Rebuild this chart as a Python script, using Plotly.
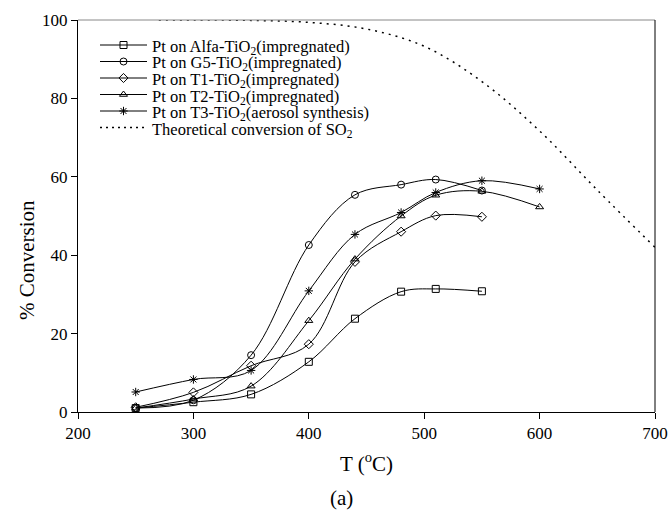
import plotly.graph_objects as go

# ---- data ----
T_imp = [250, 300, 350, 400, 440, 480, 510, 550]
alfa = [1.0, 2.5, 4.5, 12.8, 23.8, 30.7, 31.4, 30.8]
g5 = [1.0, 3.0, 14.5, 42.6, 55.4, 58.0, 59.3, 56.5]
t1 = [1.2, 5.0, 11.8, 17.3, 38.3, 46.0, 50.1, 49.8]

T_ext = [250, 300, 350, 400, 440, 480, 510, 550, 600]
t2 = [1.0, 3.3, 6.6, 23.3, 39.0, 50.0, 55.3, 56.3, 52.3]
t3 = [5.1, 8.3, 10.6, 30.9, 45.3, 50.9, 56.0, 59.0, 56.9]

T_theo = [270, 300, 350, 400, 450, 500, 550, 600, 650, 700]
theo = [100, 100, 99.9, 99.4, 97.7, 93.3, 84.3, 71.7, 56.6, 42.0]

names = [
    "Pt on Alfa-TiO<sub>2</sub>(impregnated)",
    "Pt on G5-TiO<sub>2</sub>(impregnated)",
    "Pt on T1-TiO<sub>2</sub>(impregnated)",
    "Pt on T2-TiO<sub>2</sub>(impregnated)",
    "Pt on T3-TiO<sub>2</sub>(aerosol synthesis)",
    "Theoretical conversion of SO<sub>2</sub>",
]
symbols = ["square-open", "circle-open", "diamond-open", "triangle-up-open", "asterisk-open"]

FONT = "Liberation Serif, Times New Roman, serif"

# layout geometry (pixels)
W, H = 670, 513
L, R, TOP, B = 78, 15, 20, 101
PW, PH = W - L - R, H - TOP - B


def px(xp):
    return (xp - L) / PW


def py(yp):
    return (H - B - yp) / PH


fig = go.Figure()
series = [(T_imp, alfa), (T_imp, g5), (T_imp, t1), (T_ext, t2), (T_ext, t3)]
for (x, y), nm, sym in zip(series, names, symbols):
    fig.add_trace(go.Scatter(
        x=x, y=y, name=nm, mode="lines+markers",
        line=dict(color="black", width=1, shape="spline", smoothing=1),
        marker=dict(symbol=sym, size=7, color="black",
                    line=dict(color="black", width=1)),
        showlegend=False,
    ))

fig.add_trace(go.Scatter(
    x=T_theo, y=theo, name=names[5], mode="lines",
    line=dict(color="black", width=1.5, dash="2px,5px", shape="spline"),
    showlegend=False,
))

# ---- manual legend (layout keys) ----
leg_rows = [45, 61.5, 78, 94.5, 111, 127.5]
leg_x0, leg_x1, leg_tx = 100, 147, 149.5
shapes = []
annotations = []
for i, (nm, ry) in enumerate(zip(names, leg_rows)):
    dash = "solid" if i < 5 else "2px,4px"
    shapes.append(dict(type="line", xref="paper", yref="paper",
                       x0=px(leg_x0), x1=px(leg_x1), y0=py(ry), y1=py(ry),
                       line=dict(color="black", width=1 if i < 5 else 1.5, dash=dash)))
    annotations.append(dict(text=nm, xref="paper", yref="paper",
                            x=px(leg_tx), y=py(ry + 2), xanchor="left", yanchor="middle",
                            showarrow=False, font=dict(family=FONT, size=16.5, color="black")))

fig.add_trace(go.Scatter(
    x=[px((leg_x0 + leg_x1) / 2)] * 5, y=[py(r) for r in leg_rows[:5]],
    mode="markers", xaxis="x2", yaxis="y2", showlegend=False, hoverinfo="skip",
    marker=dict(symbol=symbols, size=7, color="black", line=dict(color="black", width=1)),
))

annotations += [
    dict(text="% Conversion", xref="paper", yref="paper", x=px(27), y=py(260),
         xanchor="center", yanchor="middle", textangle=-90, showarrow=False,
         font=dict(family=FONT, size=21, color="black")),
    dict(text="T (<sup>o</sup>C)", xref="paper", yref="paper", x=px(366.5), y=py(462),
         xanchor="center", yanchor="middle", showarrow=False,
         font=dict(family=FONT, size=21, color="black")),
    dict(text="(a)", xref="paper", yref="paper", x=px(341), y=py(498),
         xanchor="center", yanchor="middle", showarrow=False,
         font=dict(family=FONT, size=21, color="black")),
]

# top frame line is light grey in the reference
shapes.append(dict(type="line", xref="paper", yref="paper", x0=0, x1=1, y0=1, y1=1,
                   line=dict(color="#888888", width=1)))

fig.update_layout(
    width=W, height=H,
    margin=dict(l=L, r=R, t=TOP, b=B, autoexpand=False),
    paper_bgcolor="white", plot_bgcolor="white",
    font=dict(family=FONT, color="black", size=17),
    showlegend=False,
    shapes=shapes,
    annotations=annotations,
    xaxis=dict(
        range=[200, 700], tickvals=[200, 300, 400, 500, 600, 700],
        ticks="outside", ticklen=6, tickcolor="black",
        showline=True, linecolor="black", linewidth=1, mirror=False,
        showgrid=False, zeroline=False, automargin=False,
        tickfont=dict(family=FONT, size=17),
    ),
    yaxis=dict(
        range=[0, 100], tickvals=[0, 20, 40, 60, 80, 100],
        ticks="outside", ticklen=6, tickcolor="black",
        showline=True, linecolor="black", linewidth=1, mirror=False,
        showgrid=False, zeroline=False, automargin=False,
        tickfont=dict(family=FONT, size=17),
    ),
    xaxis2=dict(range=[0, 1], overlaying="x", visible=False, fixedrange=True),
    yaxis2=dict(range=[0, 1], overlaying="y", visible=False, fixedrange=True),
)
# right frame line
fig.add_shape(type="line", xref="paper", yref="paper", x0=1, x1=1, y0=0, y1=1,
              line=dict(color="black", width=1))

fig.write_html("out.html", config={"displayModeBar": False},
               post_script="document.body.style.margin='0px';")
